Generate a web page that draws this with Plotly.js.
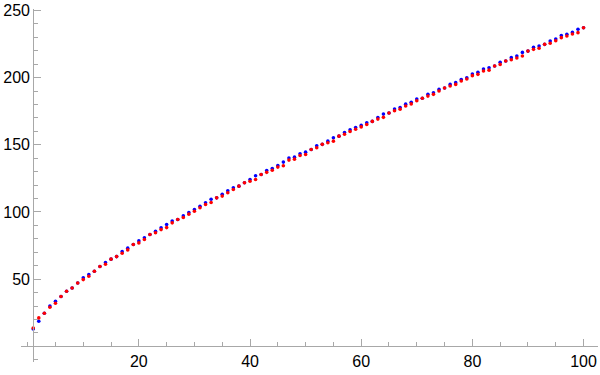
<!DOCTYPE html>
<html>
<head>
<meta charset="utf-8">
<script src="https://cdn.plot.ly/plotly-3.0.1.min.js"></script>
<style>
  html, body { margin: 0; padding: 0; background: #fff; }
  #plot { width: 600px; height: 375px; }
</style>
</head>
<body>
<div id="plot"></div>
<script>
// x positions (list index, 1..100)
const xs = [1, 2, 3, 4, 5, 6, 7, 8, 9, 10, 11, 12, 13, 14, 15, 16, 17, 18, 19, 20,
    21, 22, 23, 24, 25, 26, 27, 28, 29, 30, 31, 32, 33, 34, 35, 36, 37, 38, 39, 40,
    41, 42, 43, 44, 45, 46, 47, 48, 49, 50, 51, 52, 53, 54, 55, 56, 57, 58, 59, 60,
    61, 62, 63, 64, 65, 66, 67, 68, 69, 70, 71, 72, 73, 74, 75, 76, 77, 78, 79, 80,
    81, 82, 83, 84, 85, 86, 87, 88, 89, 90, 91, 92, 93, 94, 95, 96, 97, 98, 99, 100];

// blue series (drawn first, mostly hidden under red)
const blueY = [13.0, 18.7, 24.7, 30.1, 33.6, 37.1, 41.0, 43.5, 47.2, 51.0,
    53.5, 55.9, 59.4, 62.4, 64.9, 66.8, 70.6, 73.1, 75.8, 78.5,
    80.8, 83.2, 85.7, 88.2, 90.7, 93.2, 94.4, 97.1, 99.6, 101.8,
    104.3, 106.8, 109.5, 110.5, 113.2, 115.8, 118.0, 119.2, 121.7, 124.2,
    126.9, 127.9, 130.8, 132.4, 134.6, 137.1, 140.1, 140.8, 143.3, 144.5,
    146.5, 149.3, 150.3, 152.7, 155.2, 156.4, 159.1, 161.1, 162.9, 164.4,
    166.4, 167.4, 170.3, 172.8, 173.6, 176.6, 177.7, 180.2, 181.6, 184.0,
    184.6, 187.5, 188.7, 191.2, 192.2, 194.9, 196.2, 198.6, 199.9, 202.6,
    203.9, 206.3, 207.3, 208.6, 211.3, 212.3, 214.8, 216.0, 218.7, 219.7,
    222.5, 223.5, 224.7, 227.2, 228.7, 231.2, 232.2, 233.6, 235.9, 237.1];

// red series
const redY = [13.7, 21.2, 24.7, 29.1, 32.1, 37.1, 41.0, 43.5, 47.2, 49.7,
    52.2, 55.9, 59.4, 61.1, 64.9, 66.8, 69.3, 71.8, 75.8, 77.0,
    79.5, 83.2, 84.5, 86.9, 88.4, 91.9, 94.4, 95.9, 98.4, 100.6,
    103.1, 105.6, 107.1, 110.5, 111.8, 114.3, 116.7, 119.2, 121.7, 122.9,
    124.2, 127.9, 129.5, 131.1, 133.4, 134.4, 138.6, 139.3, 142.0, 142.8,
    146.5, 147.8, 150.3, 151.5, 152.7, 156.4, 157.8, 159.9, 161.6, 163.3,
    165.1, 167.4, 169.1, 170.4, 173.6, 175.3, 176.5, 178.8, 180.4, 182.8,
    184.6, 186.2, 187.5, 190.0, 192.2, 193.7, 194.9, 197.4, 198.9, 201.4,
    202.4, 204.9, 205.5, 208.6, 209.8, 212.3, 213.3, 214.5, 216.0, 219.7,
    221.0, 221.8, 224.7, 225.5, 227.4, 229.7, 230.9, 232.4, 233.4, 237.1];

const xTicks = [20, 40, 60, 80, 100];
const yTicks = [50, 100, 150, 200, 250];

const xRange = [-1.2, 102.6];
const yRange = [-11.6, 251];
const axisColor = '#a8a8a8';

// axes cross at (1, 0), like the Mathematica original
const xAxisPos = (0 - yRange[0]) / (yRange[1] - yRange[0]);
const yAxisPos = (1 - xRange[0]) / (xRange[1] - xRange[0]);

const blue = {
    x: xs,
    y: blueY,
    type: 'scatter',
    mode: 'markers',
    marker: { color: '#0000ff', size: 3.6 },
    hoverinfo: 'skip'
};

const red = {
    x: xs,
    y: redY,
    type: 'scatter',
    mode: 'markers',
    marker: { color: '#ff0000', size: 3.6 },
    hoverinfo: 'skip'
};

const layout = {
    width: 600,
    height: 375,
    margin: { l: 21, r: 2, t: 9, b: 13 },
    showlegend: false,
    paper_bgcolor: '#fff',
    plot_bgcolor: '#fff',
    font: { family: 'Arial, "Liberation Sans", sans-serif', size: 16, color: '#000' },
    xaxis: {
        range: xRange,
        anchor: 'free',
        position: xAxisPos,
        showline: true,
        linecolor: axisColor,
        linewidth: 1,
        showgrid: false,
        zeroline: false,
        tickmode: 'array',
        tickvals: xTicks,
        ticks: 'inside',
        ticklen: 7,
        tickcolor: axisColor,
        minor: { tickmode: 'linear', tick0: 0, dtick: 5, ticks: 'inside', ticklen: 4, tickcolor: axisColor }
    },
    yaxis: {
        range: yRange,
        anchor: 'free',
        position: yAxisPos,
        showline: true,
        linecolor: axisColor,
        linewidth: 1,
        showgrid: false,
        zeroline: false,
        tickmode: 'array',
        tickvals: yTicks,
        ticks: 'inside',
        ticklen: 7,
        tickcolor: axisColor,
        minor: { tickmode: 'linear', tick0: 0, dtick: 10, ticks: 'inside', ticklen: 4, tickcolor: axisColor }
    }
};

Plotly.newPlot('plot', [blue, red], layout, { staticPlot: true, displayModeBar: false });
</script>
</body>
</html>
